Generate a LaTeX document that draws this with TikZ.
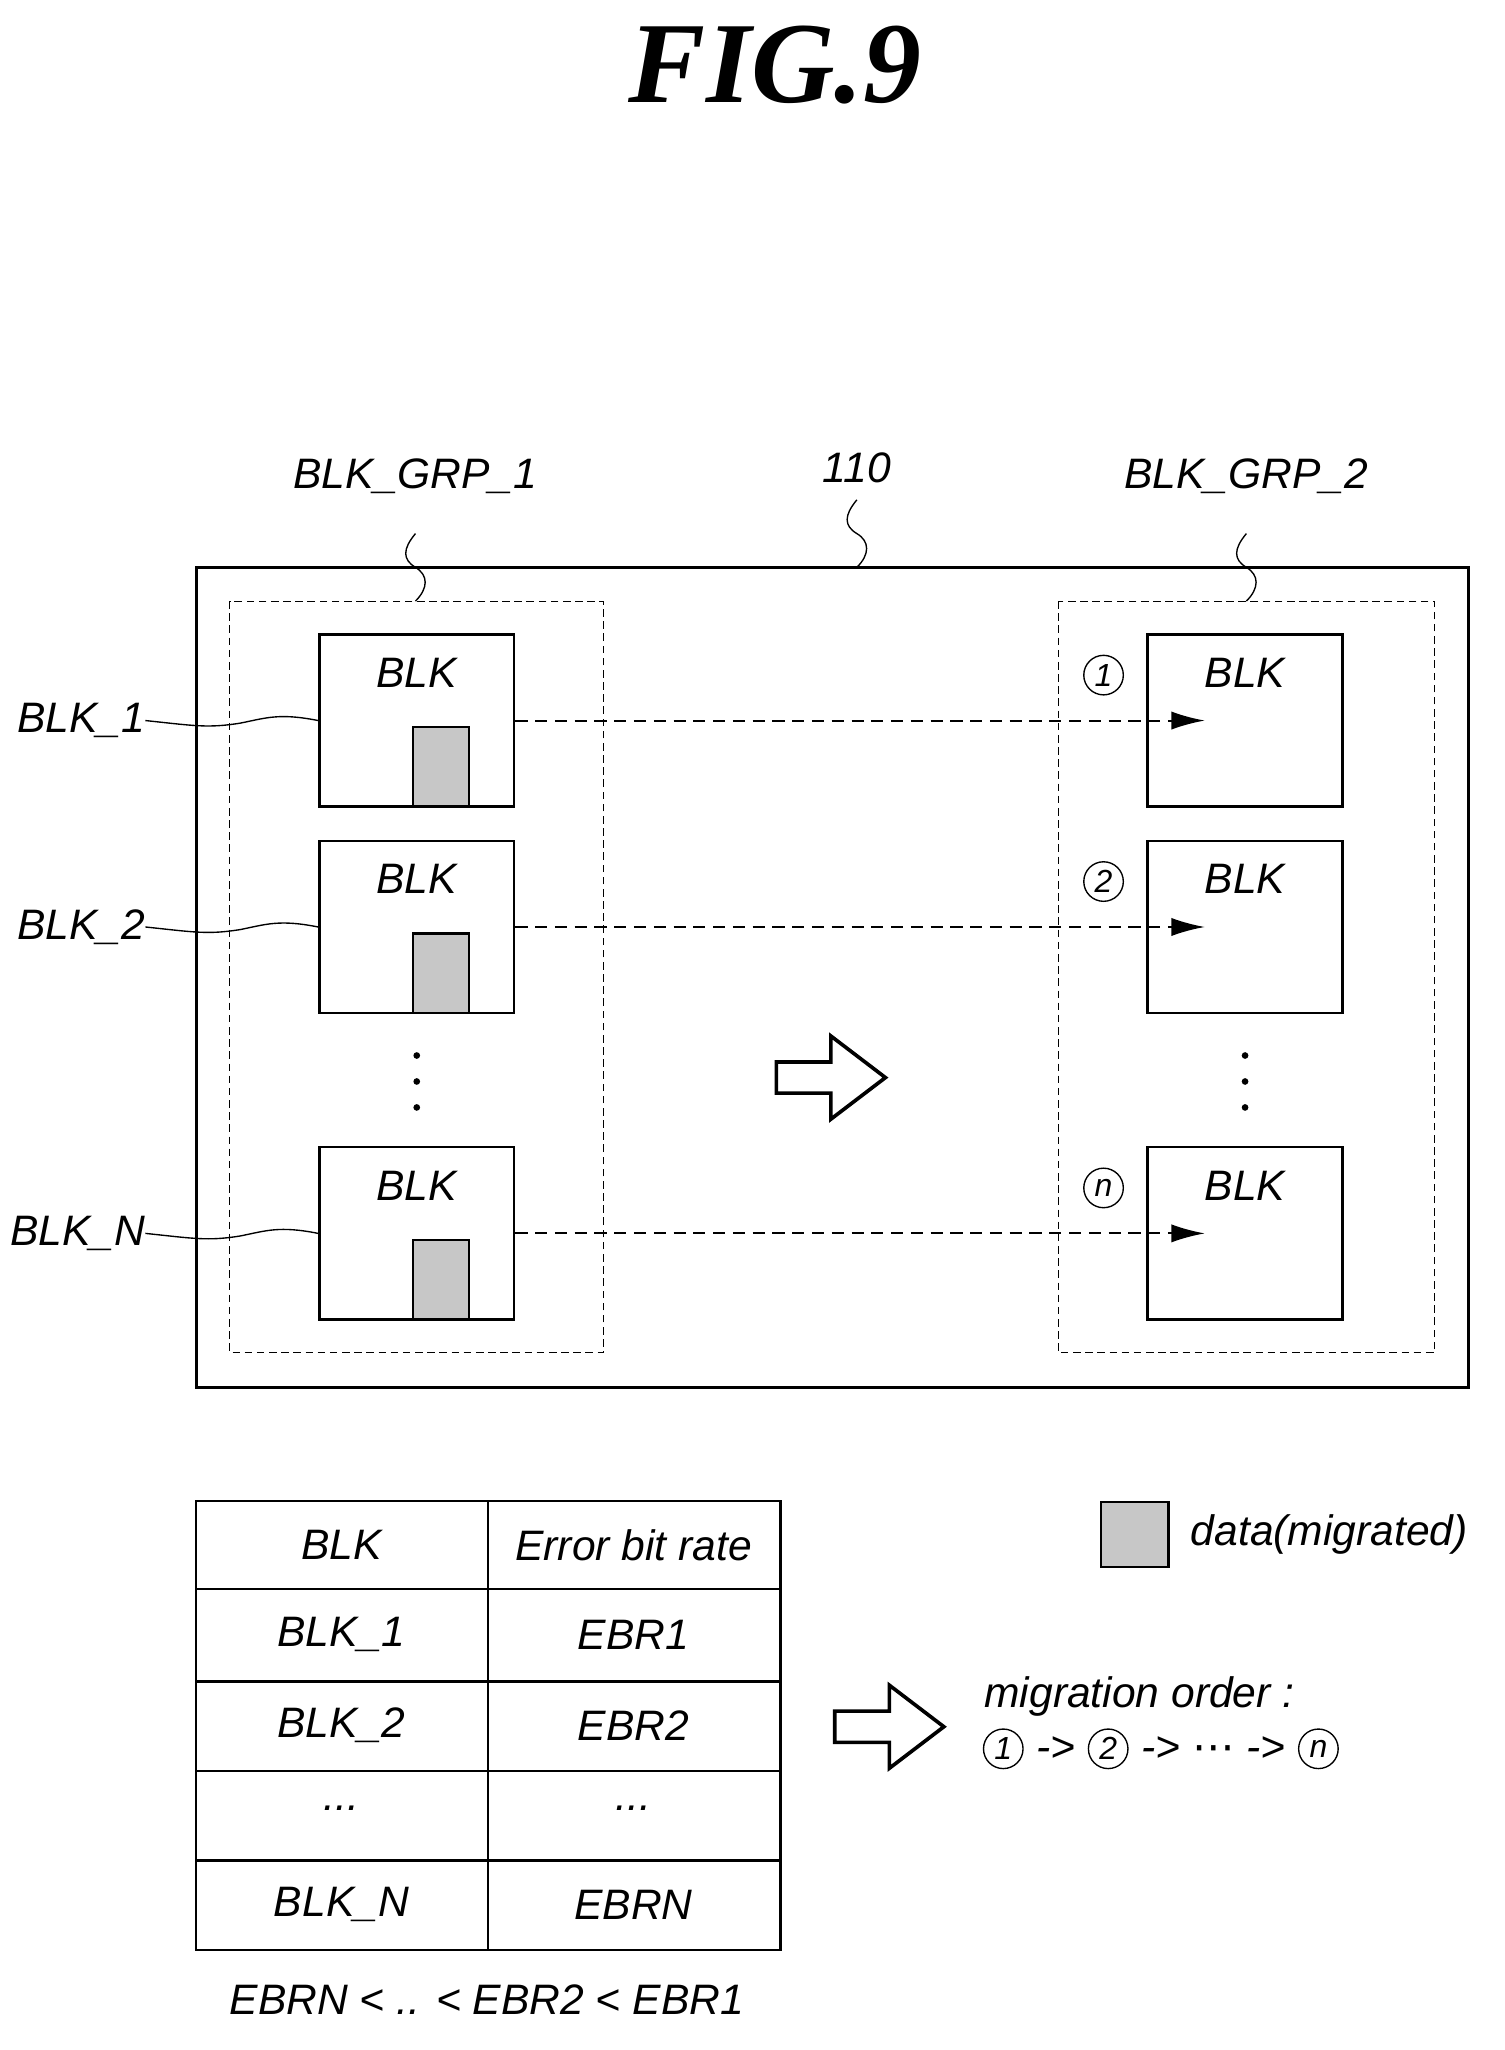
\documentclass[tikz,border=0pt]{standalone}
\usepackage{fontspec}
\setmainfont{Liberation Sans}
\newfontfamily\titlefont{Liberation Serif}
\newfontfamily\symfont{DejaVu Sans}
\usetikzlibrary{arrows.meta}
\tikzset{
  >=latex,
  lbl/.style={font=\fontsize{28}{34}\selectfont\itshape, inner sep=0},
  blk/.style={draw, line width=1.6pt, minimum width=4.5cm, minimum height=3.98cm, inner sep=0},
  grp/.style={draw, dash pattern=on 5pt off 3pt, line width=0.8pt},
  data/.style={draw, line width=1.4pt, fill=black!22},
  leader/.style={line width=0.9pt},
  move arrow/.style={dash pattern=on 8pt off 5pt, line width=1.3pt, -{Latex[length=22pt,width=12pt]}},
  hollow/.style={draw, line width=2.4pt, fill=white},
  cell/.style={line width=1.6pt},
  circnum/.style={draw, circle, line width=0.9pt, minimum size=26pt, inner sep=0,
    font=\fontsize{21}{23}\selectfont\itshape}
}
\newcommand{\bigarrow}[2]{% hollow block arrow centred at #1,#2
  \draw[hollow] (#1-42,#2-12) -- (#1+0,#2-12) -- (#1+0,#2-32) -- (#1+42,#2) -- (#1+0,#2+32) -- (#1+0,#2+12) -- (#1-42,#2+12) -- cycle;}

\begin{document}
\begin{tikzpicture}[x=0.03cm, y=-0.03cm]
  \useasboundingbox (0,0) rectangle (1159,1579);

  % title
  \node[font=\fontsize{76}{80}\selectfont\titlefont\bfseries\itshape] (title) at (597,50) {FIG.9};

  % memory
  \draw[line width=2pt] (151,437) rectangle (1131,1069);
  \draw[grp] (177,463) rectangle (465,1042);
  \draw[grp] (815,463) rectangle (1105,1042);

  \node[lbl] (lab110) at (660,360) {110};
  \node[lbl] (grp1) at (320,367) {BLK\_GRP\_1};
  \node[lbl] (grp2) at (960,367) {BLK\_GRP\_2};
  \foreach \x/\y in {660/437, 320/463, 960/463}
    \draw[leader] (\x,\y-52) .. controls (\x-10,\y-40) and (\x-10,\y-32) .. (\x,\y-26)
                  .. controls (\x+10,\y-20) and (\x+10,\y-10) .. (\x,\y);

  % blocks
  \foreach \n/\y/\c in {1/555/1, 2/714/2, N/950/n} {
    \node[blk] (a\n) at (321,\y) {};
    \node[lbl] at (321,\y-37) {BLK};
    \draw[data] (318,\y+66) rectangle (361,\y+5);
    \node[blk] (b\n) at (959,\y) {};
    \node[lbl] at (959,\y-37) {BLK};
    \node[circnum] at (850,\y-35) {\c};
    \coordinate (t\n) at (928,\y);
    \draw[move arrow] (a\n.east) -- (t\n);
    \node[lbl, anchor=east] (name\n) at (112,\y) {BLK\_\n};
    \draw[leader] (name\n.east) .. controls (150,\y+4) and (160,\y+6) .. (185,\y+2)
                  .. controls (205,\y-2) and (215,\y-6) .. (a\n.west);
  }
  \foreach \x in {321, 959}
    \foreach \d in {-20, 0, 20}
      \fill (\x,833+\d) circle (2.2pt);

  \bigarrow{640}{830}

  % table
  \draw[cell] (151,1156) rectangle (601,1502);
  \draw[cell] (376,1156) -- (376,1502);
  \foreach \y in {1224,1295,1364,1433}
    \draw[cell] (151,\y) -- (601,\y);
  \foreach \y/\p/\q in {1190/BLK/Error bit rate, 1259/BLK\_1/EBR1, 1329/BLK\_2/EBR2, 1467/BLK\_N/EBRN} {
    \node[lbl] at (263,\y) {\p};
    \node[lbl] at (488,\y) {\q};
  }
  \node[lbl] at (263,1393) {...};
  \node[lbl] at (488,1393) {...};
  \node[lbl] (order) at (375,1540) {EBRN < .. < EBR2 < EBR1};

  % legend
  \draw[data] (848,1157) rectangle (900,1207);
  \node[lbl, anchor=west] (legend) at (917,1182) {data(migrated)};

  \bigarrow{685}{1330}
  \node[lbl, anchor=west] (mig) at (758,1307) {migration order :};
  \node[circnum, anchor=west] (s1) at (757,1347) {1};
  \node[lbl, anchor=west] (s12) at ([xshift=8pt]s1.east) {->};
  \node[circnum, anchor=west] (s2) at ([xshift=8pt]s12.east) {2};
  \node[lbl, anchor=west] (s23) at ([xshift=8pt]s2.east) {-> {\symfont ⋯} ->};
  \node[circnum, anchor=west] (sn) at ([xshift=8pt]s23.east) {n};
\end{tikzpicture}
\end{document}
